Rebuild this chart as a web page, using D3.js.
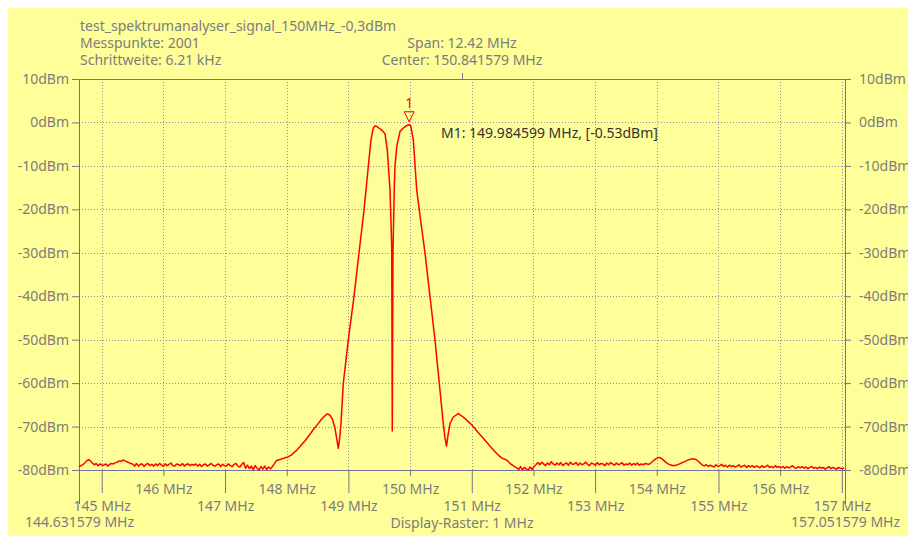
<!DOCTYPE html>
<html>
<head>
<meta charset="utf-8">
<script src="https://cdn.jsdelivr.net/npm/d3@7"></script>
<style>
  html, body { margin: 0; padding: 0; background: #fff; }
  svg { display: block; }
  text { font-family: "Noto Sans", "Open Sans", sans-serif; font-size: 14px; }
</style>
</head>
<body>
<svg id="chart" width="908" height="536"></svg>
<script>

//============================================================
// Data
//------------------------------------------------------------

var startMHz = 144.631579
  , stopMHz = 157.051579
  , centerMHz = 150.841579
  , sampleStep = 0.03105          // every 5th point of 6.21 kHz
  , yTicks = [10, 0, -10, -20, -30, -40, -50, -60, -70, -80]
  , mhzTicks = [145, 146, 147, 148, 149, 150, 151, 152, 153, 154, 155, 156, 157]
  , headerLeft = ['test_spektrumanalyser_signal_150MHz_-0,3dBm', 'Messpunkte: 2001', 'Schrittweite: 6.21 kHz']
  , headerCenter = ['Span: 12.42 MHz', 'Center: 150.841579 MHz']
  , footerCenter = 'Display-Raster: 1 MHz'
  , marker = {id: '1', mhz: 149.984599, dbm: -0.53}
  ;

// noise floor below the signal, dBm, starting at startMHz
var floorLowStart = 144.631579;
var floorLow = [
  -79.3, -79.0, -78.8, -78.4,
  -77.9, -77.6, -77.9,
  -78.4, -78.8, -78.5, -79.0, -78.6, -78.9,
  -78.9, -78.6, -79.1, -78.7, -78.5, -78.6,
  -78.3, -78.2, -77.9, -78.0, -77.7, -77.9, -78.1, -78.3, -78.5,
  -78.6, -79.1, -78.5, -79.1, -78.7, -78.6, -79.2, -78.7, -78.5, -79.0,
  -78.7, -79.1, -78.6, -79.0, -78.5, -78.8, -79.2, -78.6, -79.0, -78.7,
  -78.4, -79.0, -79.1, -78.6, -78.8, -79.0, -78.5, -79.1, -78.7, -78.6,
  -79.0, -78.7,
  -78.9, -78.6, -79.1, -78.7, -79.2, -78.8, -78.6, -79.1, -78.8, -78.5,
  -78.9, -79.1, -78.8, -78.6, -79.2, -78.7, -79.0, -79.1, -78.6, -79.0,
  -79.2, -78.7, -78.5, -79.1,
  -79.3, -78.7, -78.3, -79.6, -78.9, -79.7, -79.1, -79.9, -79.0, -79.6,
  -80.0, -79.2, -79.8, -79.1, -79.9, -79.3,
  -79.7, -79.2, -78.6, -77.9, -77.7, -77.6, -77.4, -77.3, -77.1
];

// signal region [MHz, dBm]
var lobes = [
  [148.004, -77.1], [148.08, -76.5], [148.15, -75.6], [148.215, -74.6],
  [148.30, -73.2], [148.38, -71.7], [148.426, -70.8], [148.50, -69.5],
  [148.57, -68.2], [148.62, -67.5], [148.66, -67.1], [148.70, -67.4],
  [148.74, -68.3], [148.78, -70.2], [148.81, -72.8], [148.836, -75.0],
  [148.86, -72.5], [148.88, -69.2], [148.917, -60.0], [148.998, -50.1],
  [149.090, -40.1], [149.171, -30.1], [149.253, -20.2], [149.322, -10.2],
  [149.366, -4.0], [149.40, -1.4], [149.431, -0.8], [149.46, -0.9],
  [149.512, -1.5], [149.55, -1.9], [149.593, -2.6], [149.630, -6.3],
  [149.674, -15.5], [149.702, -28.6], [149.711, -71.0], [149.722, -30.0],
  [149.744, -14.8], [149.755, -10.2], [149.783, -5.6], [149.836, -2.1],
  [149.88, -1.4], [149.917, -1.0], [149.95, -0.7], [149.984599, -0.53],
  [150.010, -0.8], [150.052, -4.0], [150.107, -15.5], [150.177, -23.2],
  [150.242, -30.1], [150.323, -40.1], [150.404, -50.1], [150.473, -60.0],
  [150.538, -69.3], [150.565, -72.5], [150.590, -74.5], [150.615, -72.0],
  [150.647, -69.3], [150.70, -67.8], [150.782, -67.0], [150.86, -67.8],
  [150.94, -68.8], [150.999, -69.6], [151.10, -71.3], [151.187, -72.7],
  [151.30, -74.6], [151.404, -76.2], [151.48, -77.2], [151.566, -77.7],
  [151.63, -78.6], [151.70, -79.3]
];

// noise floor above the signal, dBm, starting at floorHighStart
var floorHighStart = 151.73;
var floorHigh = [
  -79.5, -79.9, -79.2, -80.0, -79.4, -79.8, -80.0, -79.3, -79.9, -79.2,
  -78.8, -78.3, -78.8, -78.2, -78.6, -79.0, -78.4, -78.8, -78.1, -78.6,
  -78.9, -78.4, -78.8, -78.3, -79.0, -78.6, -78.4, -78.9, -78.2, -78.7,
  -78.6, -78.3, -78.9, -78.4, -78.8, -78.6, -78.2, -78.7, -79.0, -78.4,
  -78.6, -78.9, -78.3, -78.8, -78.5, -78.6, -79.0, -78.4, -78.8, -78.3,
  -78.6, -78.9, -78.4, -78.8, -78.6, -78.3, -78.9, -78.6, -78.8, -78.4,
  -78.9, -78.5, -78.8, -78.4, -78.9, -78.6, -78.8, -78.5, -78.6, -78.7,
  -78.4, -78.0, -77.6, -77.3, -77.1, -77.2, -77.5, -77.9, -78.3, -78.6, -78.8,
  -78.9, -79.0, -78.9, -78.8, -78.6, -78.4,
  -78.2, -78.0, -77.8, -77.6, -77.5, -77.4, -77.5, -77.7, -78.1, -78.5, -78.9,
  -79.0, -78.8, -79.2, -78.9, -79.1, -79.3, -78.8, -79.2, -79.0, -78.7,
  -79.2, -78.9, -79.3, -78.9, -79.2, -79.0, -79.3, -79.1, -78.8, -79.3,
  -79.1, -78.9, -79.4, -79.0, -79.3, -79.0, -79.4, -79.1, -79.2, -79.5,
  -79.0, -79.4, -79.2, -78.9, -79.4, -79.2, -79.5, -79.0, -79.4, -79.2,
  -79.5, -79.2, -79.6, -79.2, -79.5, -79.3, -79.0, -79.5, -79.6, -79.2,
  -79.5, -79.2, -79.6, -79.3, -79.7, -79.4, -79.2, -79.6, -79.4, -79.7,
  -79.3, -79.6, -79.4, -79.8, -79.5, -79.2, -79.7, -79.4, -79.6, -79.8,
  -79.4, -79.6, -79.7, -79.5
];

//============================================================


//------------------------------------------------------------
// Setup

var width = 908
  , height = 536
  , margin = {top: 79, right: 63, bottom: 66, left: 79}
  , axisColor = '#73738c'
  , gridColor = '#8e8ea0'
  , textColor = '#7c7c7c'
  , traceColor = '#ff0000'
  , fontFamily = '"Noto Sans", "Open Sans", sans-serif'
  ;

var svg = d3.select('#chart');

svg.append('rect')
    .attr('x', 8).attr('y', 8)
    .attr('width', width - 8).attr('height', height - 8)
    .attr('fill', '#ffff99');

var x = d3.scaleLinear()
    .domain([startMHz, stopMHz])
    .range([margin.left, width - margin.right]);

var y = d3.scaleLinear()
    .domain([-80, 10])
    .range([height - margin.bottom, margin.top]);

var trace = floorLow.map(function(v, i) { return [floorLowStart + i * sampleStep, v] })
    .concat(lobes)
    .concat(floorHigh.map(function(v, i) { return [floorHighStart + i * sampleStep, v] }));

//------------------------------------------------------------
// Grid

var grid = svg.append('g').attr('class', 'grid')
    .attr('stroke', gridColor)
    .attr('stroke-width', 1)
    .attr('stroke-dasharray', '1,2');

grid.selectAll('line.v')
    .data(mhzTicks)
  .enter().append('line')
    .attr('class', 'v')
    .attr('x1', function(d) { return Math.round(x(d)) + 0.5 })
    .attr('x2', function(d) { return Math.round(x(d)) + 0.5 })
    .attr('y1', y(10))
    .attr('y2', y(-80));

grid.selectAll('line.h')
    .data(yTicks.filter(function(d) { return d < 10 && d > -80 }))
  .enter().append('line')
    .attr('class', 'h')
    .attr('x1', x(startMHz))
    .attr('x2', x(stopMHz))
    .attr('y1', function(d) { return Math.round(y(d)) + 0.5 })
    .attr('y2', function(d) { return Math.round(y(d)) + 0.5 });

//------------------------------------------------------------
// Axes

function styleAxis(g) {
  g.selectAll('path, line').attr('stroke', axisColor);
  g.selectAll('text').attr('fill', textColor)
      .style('font-family', fontFamily)
      .style('font-size', '14px');
}

var fmtDbm = function(d) { return d + 'dBm' };
var fmtMHz = function(d) { return d + ' MHz' };

svg.append('g')
    .attr('transform', 'translate(' + x(startMHz) + ',0)')
    .call(d3.axisLeft(y).tickValues(yTicks).tickSize(7).tickPadding(3).tickSizeOuter(0).tickFormat(fmtDbm))
    .call(styleAxis);

svg.append('g')
    .attr('transform', 'translate(' + x(stopMHz) + ',0)')
    .call(d3.axisRight(y).tickValues(yTicks).tickSize(6).tickPadding(8).tickSizeOuter(0).tickFormat(fmtDbm))
    .call(styleAxis);

// odd MHz: long ticks, lower label row
svg.append('g')
    .attr('transform', 'translate(0,' + y(-80) + ')')
    .call(d3.axisBottom(x).tickValues(mhzTicks.filter(function(d) { return d % 2 === 1 }))
      .tickSize(23).tickPadding(8).tickSizeOuter(0).tickFormat(fmtMHz))
    .call(styleAxis);

// even MHz: short ticks, upper label row
svg.append('g')
    .attr('transform', 'translate(0,' + y(-80) + ')')
    .call(d3.axisBottom(x).tickValues(mhzTicks.filter(function(d) { return d % 2 === 0 }))
      .tickSize(6).tickPadding(8.5).tickSizeOuter(0).tickFormat(fmtMHz))
    .call(function(g) { g.select('.domain').remove() })
    .call(styleAxis);

// span limits
svg.append('g')
    .attr('transform', 'translate(0,' + y(-80) + ')')
    .call(d3.axisBottom(x).tickValues([startMHz, stopMHz])
      .tickSize(34).tickPadding(13.5).tickSizeOuter(0).tickFormat(function(d) { return d3.format('.6f')(d) + ' MHz' }))
    .call(function(g) { g.select('.domain').remove() })
    .call(styleAxis);

// top edge with center tick
svg.append('g')
    .attr('transform', 'translate(0,' + y(10) + ')')
    .call(d3.axisTop(x).tickValues([centerMHz]).tickSize(6).tickSizeOuter(0).tickFormat(''))
    .call(styleAxis);

//------------------------------------------------------------
// Header and footer texts

svg.append('g').selectAll('text')
    .data(headerLeft)
  .enter().append('text')
    .attr('x', 80)
    .attr('y', function(d, i) { return 31 + i * 17 })
    .attr('fill', textColor)
    .text(function(d) { return d });

svg.append('g').selectAll('text')
    .data(headerCenter)
  .enter().append('text')
    .attr('x', x(centerMHz))
    .attr('y', function(d, i) { return 48 + i * 17 })
    .attr('text-anchor', 'middle')
    .attr('fill', textColor)
    .text(function(d) { return d });

svg.append('text')
    .attr('x', x(centerMHz))
    .attr('y', 528)
    .attr('text-anchor', 'middle')
    .attr('fill', textColor)
    .text(footerCenter);

//------------------------------------------------------------
// Trace

svg.append('path')
    .datum(trace)
    .attr('fill', 'none')
    .attr('stroke', traceColor)
    .attr('stroke-width', 1.5)
    .attr('stroke-linejoin', 'round')
    .attr('d', d3.line()
      .x(function(d) { return x(d[0]) })
      .y(function(d) { return y(d[1]) }));

//------------------------------------------------------------
// Marker

var mx = x(marker.mhz), my = y(marker.dbm) - 3;

svg.append('path')
    .attr('d', 'M' + (mx - 5) + ',' + (my - 10) + 'L' + (mx + 5) + ',' + (my - 10) + 'L' + mx + ',' + my + 'Z')
    .attr('fill', 'none')
    .attr('stroke', traceColor)
    .attr('stroke-width', 1);

svg.append('text')
    .attr('x', mx)
    .attr('y', my - 14)
    .attr('text-anchor', 'middle')
    .attr('fill', traceColor)
    .text(marker.id);

svg.append('text')
    .attr('x', 441)
    .attr('y', 138)
    .attr('fill', '#333')
    .text('M1: ' + marker.mhz.toFixed(6) + ' MHz, [' + marker.dbm.toFixed(2) + 'dBm]');

</script>
</body>
</html>
